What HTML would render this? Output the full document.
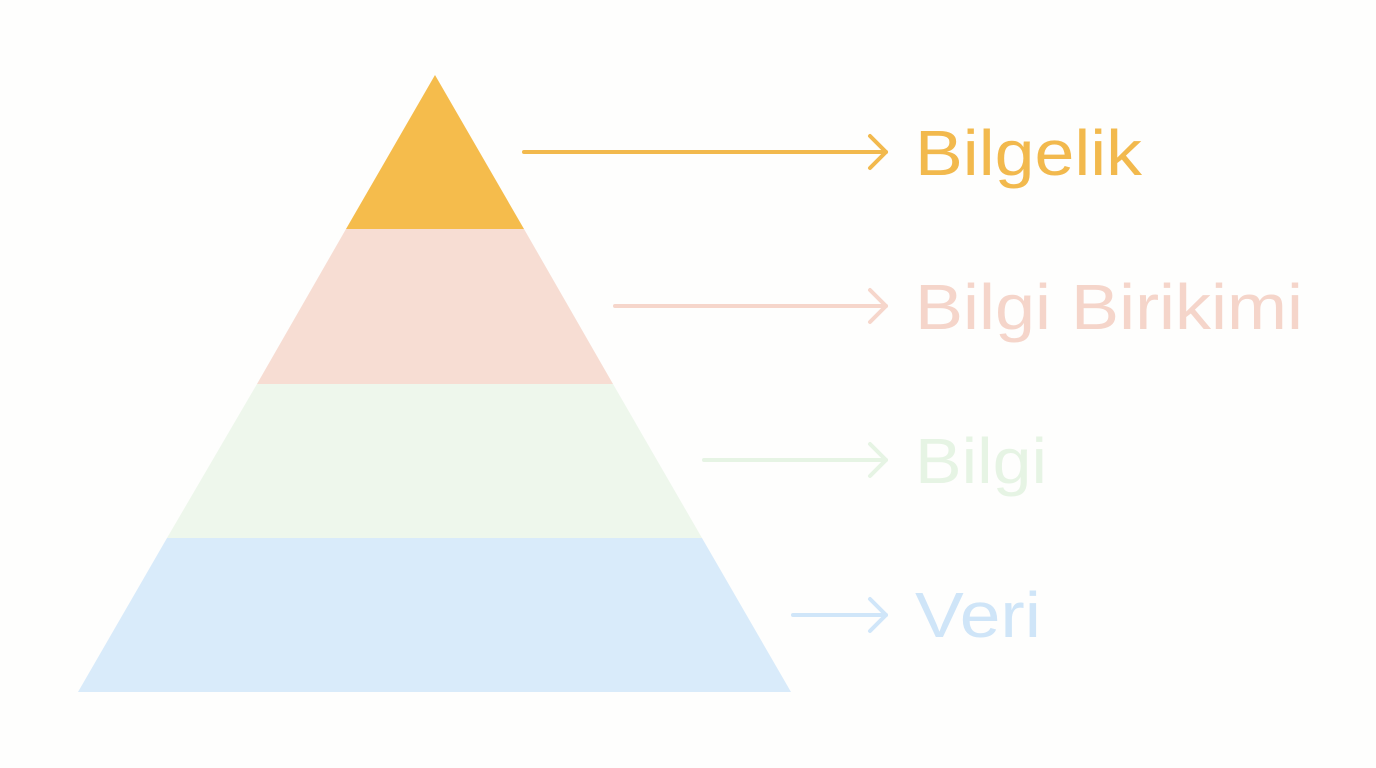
<!DOCTYPE html>
<html><head><meta charset="utf-8"><style>
html,body{margin:0;padding:0;background:#fefefd;}
svg{display:block;}
</style></head><body>
<svg width="1376" height="768" viewBox="0 0 1376 768" xmlns="http://www.w3.org/2000/svg">
<rect width="1376" height="768" fill="#fefefd"/>
<polygon points="435,75 524,229 346,229" fill="#F5BC4C"/>
<polygon points="346,229 524,229 613,384 257,384" fill="#F7DDD3"/>
<polygon points="257,384 613,384 702,538 167,538" fill="#EEF7EC"/>
<polygon points="167,538 702,538 791,692 78,692" fill="#D9EBFA"/>
<g fill="none" stroke-width="4" stroke-linecap="round" stroke-linejoin="round">
<g stroke="#F2B94D"><line x1="524" y1="152" x2="886" y2="152"/><polyline points="870,136 886,152 870,168"/></g>
<g stroke="#F6D6CB"><line x1="615" y1="306" x2="886" y2="306"/><polyline points="870,290 886,306 870,322"/></g>
<g stroke="#E6F4E4"><line x1="704" y1="460" x2="886" y2="460"/><polyline points="870,444 886,460 870,476"/></g>
<g stroke="#D0E6F9"><line x1="793" y1="615" x2="886" y2="615"/><polyline points="870,599 886,615 870,631"/></g>
</g>
<g font-family="Liberation Sans, sans-serif" font-size="64">
<text x="915" y="175" fill="#F2B94D" textLength="227" lengthAdjust="spacingAndGlyphs">Bilgelik</text>
<text x="915" y="329" fill="#F5D5CA" textLength="388" lengthAdjust="spacingAndGlyphs">Bilgi Birikimi</text>
<text x="915" y="483" fill="#E6F4E4" textLength="132" lengthAdjust="spacingAndGlyphs">Bilgi</text>
<text x="915" y="637" fill="#CFE5F8" textLength="126" lengthAdjust="spacingAndGlyphs">Veri</text>
</g>
</svg>
</body></html>
